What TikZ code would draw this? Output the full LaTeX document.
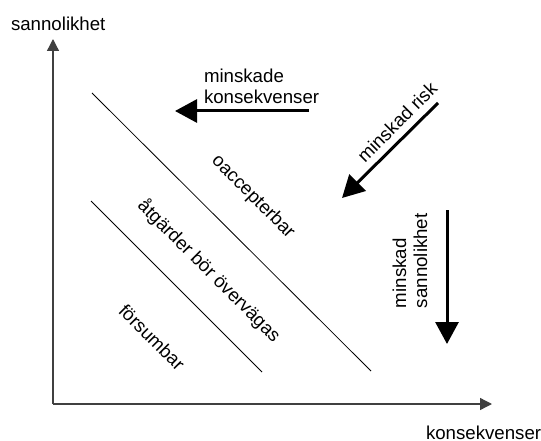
\documentclass[tikz,border=0pt]{standalone}
\usepackage{fontspec}
\setmainfont{Liberation Sans}
\usetikzlibrary{arrows.meta}
\begin{document}
\begin{tikzpicture}[x=1pt,y=-1pt,
  every node/.style={inner sep=0pt,outer sep=0pt,font=\fontsize{18.67}{21}\selectfont},
  axis/.style={draw=black!75,line width=1.3pt,-{Triangle[length=12pt,width=12pt]}},
  zone/.style={draw=black,line width=0.8pt},
  bigarrow/.style={draw=black,line width=3pt,-{Triangle[length=22pt,width=23pt]}},
  slanted/.style={rotate=-45,anchor=center}]
  \useasboundingbox (0,0) rectangle (541,441);

  % axes
  \coordinate (origin) at (53,404);
  \coordinate (ytip) at (53,39);
  \coordinate (xtip) at (492,404);
  \draw[axis] (origin) -- (ytip);
  \draw[axis] (origin) -- (xtip);
  \node[anchor=base west] (ylabel) at (11,31) {sannolikhet};
  \node[anchor=base west] (xlabel) at (426,439) {konsekvenser};

  % zone boundaries
  \coordinate (upA) at (92,93);
  \coordinate (upB) at (371,371);
  \coordinate (loA) at (91,201);
  \coordinate (loB) at (262,372);
  \draw[zone] (upA) -- (upB);
  \draw[zone] (loA) -- (loB);

  % zone labels
  \node[slanted] (unacc) at (253,197) {oaccepterbar};
  \node[slanted] (alarp) at (209,271) {åtgärder bör övervägas};
  \node[slanted] (negl) at (152,337) {försumbar};

  % reduced consequences
  \coordinate (konsA) at (309,111);
  \coordinate (konsB) at (175,111);
  \draw[bigarrow] (konsA) -- (konsB);
  \node[anchor=north west,align=left] (konslabel) at (204,68.5) {minskade\\konsekvenser};

  % reduced risk
  \coordinate (riskA) at (438,103);
  \coordinate (riskB) at (342,198);
  \draw[bigarrow] (riskA) -- (riskB);
  \node[rotate=45,anchor=center] (risklabel) at (397,122) {minskad risk};

  % reduced probability
  \coordinate (probA) at (447,210);
  \coordinate (probB) at (447,344);
  \draw[bigarrow] (probA) -- (probB);
  \node[rotate=90,anchor=west,align=left] (problabel) at (410,308) {minskad\\sannolikhet};
\end{tikzpicture}
\end{document}
